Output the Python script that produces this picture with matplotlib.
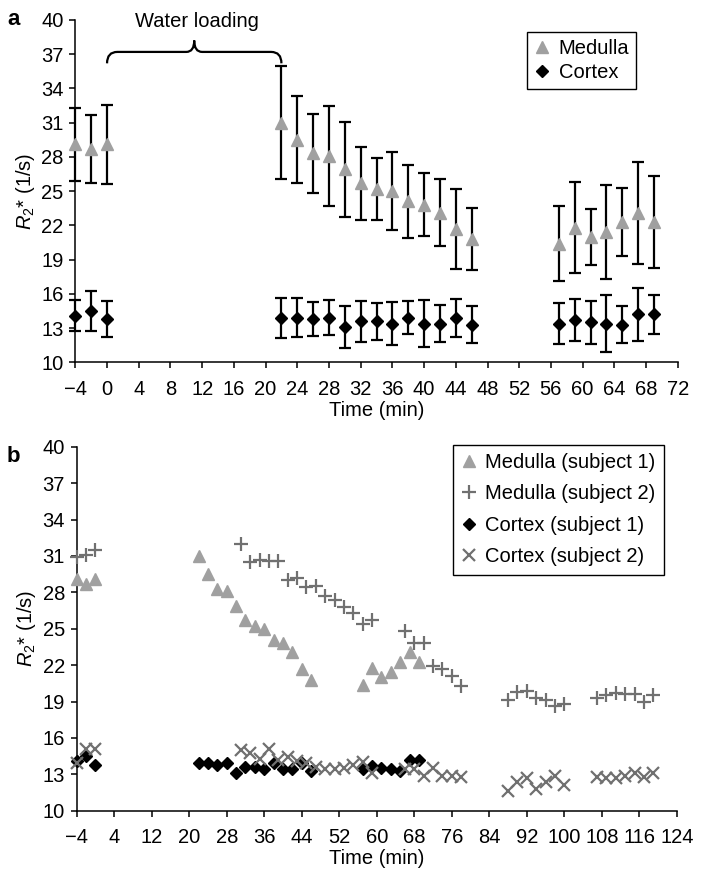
import matplotlib
matplotlib.use("Agg")
import matplotlib.pyplot as plt
from matplotlib.path import Path
import matplotlib.patches as mpatches

plt.rcParams['font.family'] = ['Liberation Sans', 'DejaVu Sans']
plt.rcParams['mathtext.fontset'] = 'custom'
plt.rcParams['mathtext.rm'] = 'Liberation Sans'
plt.rcParams['mathtext.it'] = 'Liberation Sans:italic'
plt.rcParams['font.size'] = 14.5

# panel a / subject 1 (mean and SD)
t_a = [-4, -2, 0, 22, 24, 26, 28, 30, 32, 34, 36, 38, 40, 42, 44, 46, 57, 59, 61, 63, 65, 67, 69]
med_a = [29.1, 28.7, 29.1, 31.0, 29.5, 28.3, 28.1, 26.9, 25.7, 25.2, 25.0, 24.1, 23.8, 23.1,
         21.7, 20.8, 20.4, 21.8, 21.0, 21.4, 22.3, 23.1, 22.3]
med_sd = [3.19, 3.0, 3.48, 4.97, 3.83, 3.5, 4.4, 4.15, 3.2, 2.7, 3.39, 3.17, 2.75, 2.93,
          3.49, 2.75, 3.3, 3.99, 2.46, 4.12, 2.99, 4.47, 4.05]
cor_a = [14.1, 14.5, 13.8, 13.9, 13.9, 13.8, 13.9, 13.1, 13.6, 13.6, 13.4, 13.9, 13.4, 13.4,
         13.9, 13.3, 13.4, 13.7, 13.5, 13.4, 13.3, 14.2, 14.2]
cor_sd = [1.39, 1.79, 1.54, 1.75, 1.7, 1.5, 1.55, 1.86, 1.8, 1.61, 1.88, 1.43, 2.06, 1.62,
          1.64, 1.64, 1.81, 1.81, 1.87, 2.47, 1.61, 2.35, 1.7]

# subject 2
t_s2 = [-4, -2, 0, 31, 33, 35, 37, 39, 41, 43, 45, 47, 49, 51, 53, 55, 57, 59,
        66, 68, 70, 72, 74, 76, 78, 88, 90, 92, 94, 96, 98, 100,
        107, 109, 111, 113, 115, 117, 119]
med_s2 = [30.9, 31.1, 31.5, 32.0, 30.5, 30.7, 30.6, 30.6, 29.0, 29.2, 28.4, 28.5, 27.7, 27.4,
          26.8, 26.3, 25.4, 25.7, 24.8, 23.8, 23.8, 21.9, 21.7, 21.1, 20.3,
          19.1, 19.8, 19.9, 19.3, 19.1, 18.6, 18.8, 19.3, 19.5, 19.7, 19.6, 19.6, 19.0, 19.5]
cor_s2 = [13.9, 15.1, 15.1, 15.0, 14.8, 14.3, 15.1, 14.2, 14.4, 14.1, 13.9, 13.6, 13.4, 13.4,
          13.5, 13.8, 14.0, 13.1, 13.4, 13.4, 12.9, 13.5, 12.9, 12.9, 12.8,
          11.6, 12.4, 12.7, 11.8, 12.4, 12.9, 12.1, 12.8, 12.7, 12.7, 12.9, 13.1, 12.8, 13.1]

xticks_a = list(range(-4, 73, 4))
xticks_b = list(range(-4, 125, 8))
yticks = list(range(10, 41, 3))

light = '#a0a0a0'
dark = '#707070'
fs = 14.5

fig = plt.figure(figsize=(7.04, 8.76), dpi=100)
ax1 = fig.add_axes([0.107, 0.5864, 0.8557, 0.3908])
ax2 = fig.add_axes([0.109, 0.0745, 0.8523, 0.4155])


def style(ax, xt, xlim):
    for s in ['top', 'right']:
        ax.spines[s].set_visible(False)
    for s in ['left', 'bottom']:
        ax.spines[s].set_linewidth(1.1)
    ax.set_xlim(xlim)
    ax.set_ylim(10, 40)
    ax.set_xticks(xt)
    ax.set_yticks(yticks)
    ax.set_xticklabels([str(v).replace('-', '\u2212') for v in xt])
    ax.tick_params(direction='out', length=4.5, width=1.1, labelsize=fs)
    ax.tick_params(axis='x', pad=8)
    ax.tick_params(axis='y', pad=4)
    ax.set_xlabel('Time (min)', fontsize=fs, labelpad=1.5)
    ax.set_ylabel(r'$R_2$* (1/s)', fontsize=fs, labelpad=3)


# panel a
for vals, sd in [(med_a, med_sd), (cor_a, cor_sd)]:
    eb = ax1.errorbar(t_a, vals, yerr=sd, fmt='none', ecolor='black', elinewidth=1.6,
                      capsize=4, capthick=1.6, zorder=2)
    for art in eb.lines[1] + eb.lines[2]:
        art.set_clip_on(False)
ax1.plot(t_a, med_a, '^', color=light, markersize=8.5, linestyle='none', label='Medulla',
         zorder=3, clip_on=False)
ax1.plot(t_a, cor_a, 'D', color='black', markersize=6.5, linestyle='none', label='Cortex',
         zorder=3, clip_on=False)
style(ax1, xticks_a, (-4, 72))

# brace for water loading
yb, ym, yt = 36.2, 37.2, 38.2
verts = [(0, yb), (0, ym), (1.3, ym), (10.0, ym), (11, ym), (11, yt),
         (11, ym), (12.0, ym), (20.7, ym), (22, ym), (22, yb)]
codes = [Path.MOVETO, Path.CURVE3, Path.CURVE3, Path.LINETO, Path.CURVE3, Path.CURVE3,
         Path.CURVE3, Path.CURVE3, Path.LINETO, Path.CURVE3, Path.CURVE3]
ax1.add_patch(mpatches.PathPatch(Path(verts, codes), facecolor='none', edgecolor='black',
                                 linewidth=1.6, clip_on=False))
ax1.text(11.4, 39.85, 'Water loading', ha='center', va='center', fontsize=fs)

leg1 = ax1.legend(loc='upper right', bbox_to_anchor=(0.931, 0.966), borderaxespad=0,
                  fontsize=fs, handlelength=0.8, handletextpad=0.4, borderpad=0.35,
                  labelspacing=0.25, fancybox=False, edgecolor='black', framealpha=1)
leg1.get_frame().set_linewidth(1.0)

# panel b
ax2.plot(t_a, med_a, '^', color=light, markersize=8.5, linestyle='none',
         label='Medulla (subject 1)', zorder=3, clip_on=False)
ax2.plot(t_s2, med_s2, '+', color=dark, markersize=10, markeredgewidth=1.6, linestyle='none',
         label='Medulla (subject 2)', zorder=3, clip_on=False)
ax2.plot(t_a, cor_a, 'D', color='black', markersize=6, linestyle='none',
         label='Cortex (subject 1)', zorder=3, clip_on=False)
ax2.plot(t_s2, cor_s2, 'x', color=dark, markersize=8.5, markeredgewidth=1.6, linestyle='none',
         label='Cortex (subject 2)', zorder=3, clip_on=False)
style(ax2, xticks_b, (-4, 124))

leg2 = ax2.legend(loc='upper right', bbox_to_anchor=(0.978, 1.005), borderaxespad=0,
                  fontsize=fs, handlelength=0.8, handletextpad=0.4, borderpad=0.4,
                  labelspacing=0.62, fancybox=False, edgecolor='black', framealpha=1)
leg2.get_frame().set_linewidth(1.0)

fig.text(7 / 704, 1 - 25 / 876, 'a', fontsize=16, fontweight='bold', va='baseline')
fig.text(7 / 704, 1 - 462 / 876, 'b', fontsize=16, fontweight='bold', va='baseline')

fig.savefig('out.png', dpi=100)
